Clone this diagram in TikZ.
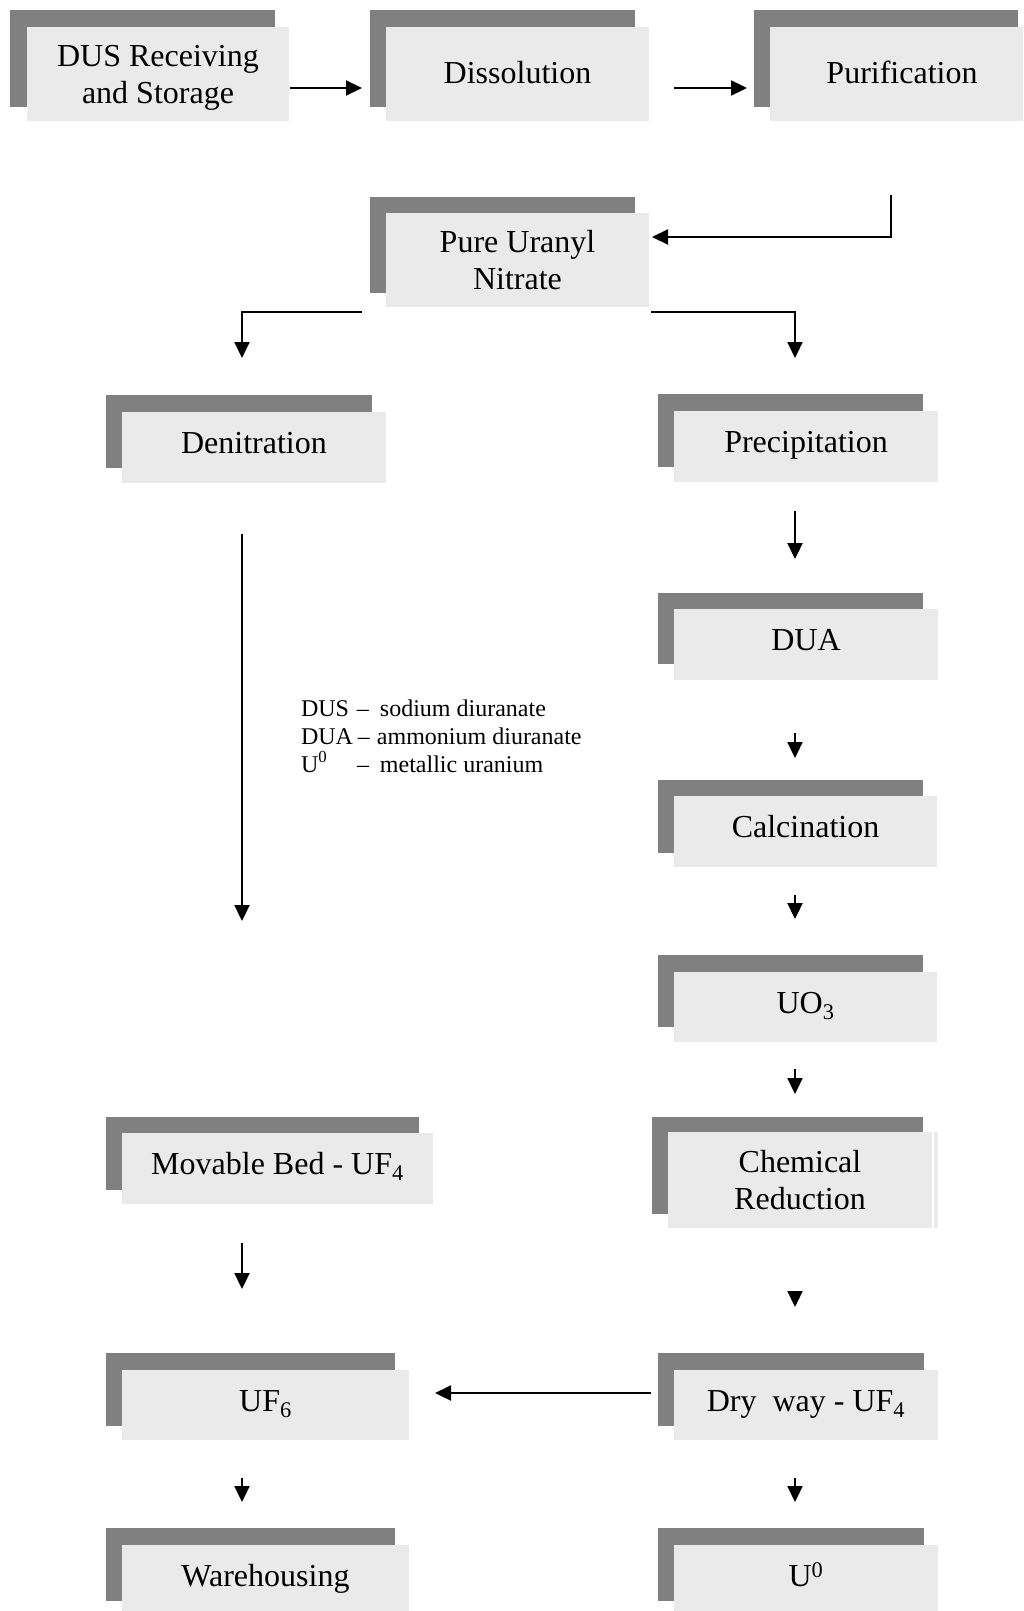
\documentclass[tikz,border=0pt]{standalone}
\usepackage{fontspec}
\setmainfont{Liberation Serif}
\usetikzlibrary{arrows.meta,calc}
\definecolor{backgray}{RGB}{128,128,128}
\definecolor{frontgray}{RGB}{234,234,234}
\begin{document}
\begin{tikzpicture}[x=1pt,y=-1pt,
  backbox/.style={rectangle,fill=backgray,draw=none,inner sep=0pt,outer sep=0pt},
  frontbox/.style={rectangle,fill=frontgray,draw=none,inner sep=0pt,outer sep=0pt,align=center,font=\fontsize{32}{37}\selectfont},
  oneline/.style={text height=22pt,text depth=10pt},
  arr/.style={draw=black,line width=2.2pt,-{Triangle[length=16pt,width=15pt]}},
  legend/.style={anchor=base west,inner sep=0pt,outer sep=0pt,font=\fontsize{24}{28}\selectfont}]
\useasboundingbox (0,0) rectangle (1023,1611);
\clip (0,0) rectangle (1023,1611);
\coordinate (colL) at (242,0);
\coordinate (colR) at (795,0);
% back (shadow) boxes
\node[backbox,minimum width=265pt,minimum height=97pt] (dusb)  at (142.5,58.5) {};
\node[backbox,minimum width=265pt,minimum height=97pt] (dissb) at (502.5,58.5) {};
\node[backbox,minimum width=264pt,minimum height=97pt] (purib) at (886,58.5) {};
\node[backbox,minimum width=265pt,minimum height=96pt] (punb)  at (502.5,245) {};
\node[backbox,minimum width=266pt,minimum height=73pt] (denb)  at (239,431.5) {};
\node[backbox,minimum width=265pt,minimum height=73pt] (preb)  at (790.5,430.5) {};
\node[backbox,minimum width=265pt,minimum height=71pt] (duab)  at (790.5,628.5) {};
\node[backbox,minimum width=265pt,minimum height=73pt] (calb)  at (790.5,816.5) {};
\node[backbox,minimum width=265pt,minimum height=72pt] (uo3b)  at (790.5,991) {};
\node[backbox,minimum width=271pt,minimum height=97pt] (chemb) at (787.5,1165.5) {};
\node[backbox,minimum width=313pt,minimum height=73pt] (movb)  at (262.5,1153.5) {};
\node[backbox,minimum width=289pt,minimum height=73pt] (uf6b)  at (250.5,1389.5) {};
\node[backbox,minimum width=266pt,minimum height=73pt] (dryb)  at (791,1389.5) {};
\node[backbox,minimum width=289pt,minimum height=73pt] (warb)  at (250.5,1564.5) {};
\node[backbox,minimum width=266pt,minimum height=73pt] (u0b)   at (791,1564.5) {};
% front boxes
\node[frontbox,text depth=0pt,minimum width=262pt,minimum height=94pt] (dus) at (158,74) {DUS Receiving\\and Storage};
\node[frontbox,text height=22pt,text depth=2pt,minimum width=263pt,minimum height=94pt] (diss) at (517.5,74) {Dissolution};
\node[frontbox,text height=22pt,text depth=2pt,minimum width=264pt,minimum height=94pt] (puri) at (902,74) {Purification};
\node[frontbox,minimum width=263pt,minimum height=94pt] (pun) at (517.5,260) {Pure Uranyl\\Nitrate};
\node[frontbox,oneline,minimum width=264pt,minimum height=71pt] (den) at (254,447.5) {Denitration};
\node[frontbox,oneline,minimum width=264pt,minimum height=71pt] (pre) at (806,446.5) {Precipitation};
\node[frontbox,oneline,minimum width=264pt,minimum height=71pt] (dua) at (806,644.5) {DUA};
\node[frontbox,oneline,minimum width=263pt,minimum height=71pt] (cal) at (805.5,831.5) {Calcination};
\node[frontbox,oneline,minimum width=263pt,minimum height=70pt] (uo3) at (805.5,1007) {UO\textsubscript{3}};
\node[frontbox,minimum width=264pt,minimum height=96pt] (chem) at (800,1180) {Chemical\\Reduction};
\node[frontbox,minimum width=4pt,minimum height=96pt] (chemx) at (936,1180) {};
\node[frontbox,oneline,minimum width=311pt,minimum height=71pt] (mov) at (277.5,1168.5) {Movable Bed - UF\textsubscript{4}};
\node[frontbox,oneline,minimum width=287pt,minimum height=70pt] (uf6) at (265.5,1405) {UF\textsubscript{6}};
\node[frontbox,oneline,minimum width=264pt,minimum height=70pt] (dry) at (806,1405) {Dry\ \ way - UF\textsubscript{4}};
\node[frontbox,oneline,minimum width=287pt,minimum height=71pt] (war) at (265.5,1580.5) {Warehousing};
\node[frontbox,oneline,minimum width=264pt,minimum height=71pt] (u0) at (806,1580.5) {U\textsuperscript{0}};
% legend
\node[legend] (leg1) at (301,716) {\makebox[56pt][l]{DUS}\makebox[23pt][l]{–}sodium diuranate};
\node[legend] (leg2) at (301,744) {\makebox[57pt][l]{DUA}\makebox[19pt][l]{–}ammonium diuranate};
\node[legend] (leg3) at (301,772) {\makebox[56pt][l]{U\textsuperscript{0}}\makebox[23pt][l]{–}metallic uranium};
% connectors
\draw[arr] ($(dus.east)+(1,14)$) -- ($(diss.west)+(-24,14)$);
\draw[arr] ($(diss.east)+(25,14)$) -- ($(puri.west)+(-23,14)$);
\draw[arr] ($(puri.south)+(-11,74)$) |- ($(pun.east)+(3,-23)$);
\draw[arr] ($(pun.south west)+(-24,5)$) -| ($(den.north -| colL)+(0,-54)$);
\draw[arr] ($(pun.south east)+(2,5)$) -| ($(pre.north -| colR)+(0,-53)$);
\draw[arr] ($(den.south -| colL)+(0,51)$) -- ($(movb.north -| colL)+(0,-196)$);
\draw[arr] ($(pre.south -| colR)+(0,29)$) -- ($(duab.north -| colR)+(0,-34)$);
\draw[arr] ($(dua.south -| colR)+(0,53)$) -- ($(calb.north -| colR)+(0,-22)$);
\draw[arr] ($(cal.south -| colR)+(0,28)$) -- ($(uo3b.north -| colR)+(0,-36)$);
\draw[arr] ($(uo3.south -| colR)+(0,27)$) -- ($(chemb.north -| colR)+(0,-23)$);
\draw[arr] ($(chem.south -| colR)+(0,63)$) -- ($(dryb.north -| colR)+(0,-46)$);
\draw[arr] ($(mov.south -| colL)+(0,39)$) -- ($(uf6b.north -| colL)+(0,-64)$);
\draw[arr] ($(dryb.west)+(-7,3.5)$) -- ($(uf6.east)+(26,-12)$);
\draw[arr] ($(uf6.south -| colL)+(0,38)$) -- ($(warb.north -| colL)+(0,-26)$);
\draw[arr] ($(dry.south -| colR)+(0,38)$) -- ($(u0b.north -| colR)+(0,-26)$);
\end{tikzpicture}
\end{document}
